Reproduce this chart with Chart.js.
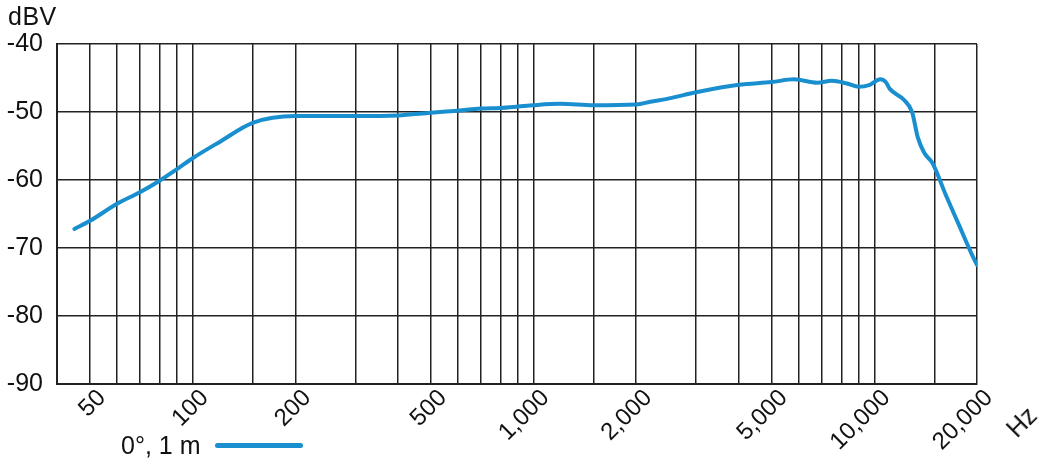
<!DOCTYPE html>
<html>
<head>
<meta charset="utf-8">
<script src="https://cdn.jsdelivr.net/npm/chart.js@4"></script>
<style>
  body { margin: 0; background: #fff; font-family: 'Liberation Sans', Arial, sans-serif; color: #111; }
  #wrap { position: relative; width: 1040px; height: 461px; }
  .lbl { position: absolute; font-size: 25px; white-space: nowrap; line-height: 1; }
  #unit { left: 8px; top: 4px; letter-spacing: 0.5px; }
  #hz { left: 1002px; top: 424px; transform: rotate(-45deg); transform-origin: left top; }
  #legend { left: 121px; top: 433px; }
  #legend span.line { display: inline-block; width: 88px; height: 5px; border-radius: 3px; background: #1a8fd0; vertical-align: middle; margin-left: 15px; position: relative; top: -2px; }
</style>
</head>
<body>
<div id="wrap">
  <canvas id="chart" width="1040" height="461"></canvas>
  <div class="lbl" id="unit">dBV</div>
  <div class="lbl" id="hz">Hz</div>
  <div class="lbl" id="legend">0°, 1 m<span class="line"></span></div>
</div>
<script>
const freqs = [45, 50, 60, 70, 80, 90, 100, 120, 150, 200, 300, 400, 500, 600, 700, 800, 900, 1000, 1200, 1500, 2000, 2200, 2500, 3000, 4000, 5000, 5800, 6800, 7500, 8300, 9000, 9700, 10400, 10800, 11100, 12200, 12900, 13400, 14000, 14800, 16200, 17700, 19300, 20000]
const levels = [-67.2, -66.0, -63.5, -61.8, -60.1, -58.4, -56.8, -54.4, -51.6, -50.6, -50.6, -50.5, -50.1, -49.8, -49.5, -49.4, -49.2, -49.0, -48.8, -49.0, -48.9, -48.5, -48.0, -47.1, -46.0, -45.6, -45.2, -45.7, -45.4, -45.8, -46.3, -46.0, -45.2, -45.6, -46.6, -48.2, -50.0, -53.7, -56.0, -57.5, -62.2, -66.6, -70.9, -72.5]

const gridFreqs = [50, 60, 70, 80, 90, 100, 150, 200, 300, 400, 500, 600, 700, 800, 900, 1000, 1500, 2000, 3000, 4000, 5000, 6000, 7000, 8000, 9000, 10000, 15000, 20000]
const tickLabels = { 50: '50', 100: '100', 200: '200', 500: '500', 1000: '1,000', 2000: '2,000', 5000: '5,000', 10000: '10,000', 20000: '20,000' }

const BLUE = '#1a8fd0'
const GRID = '#222'

new Chart(document.getElementById('chart'), {
  type: 'line',
  data: {
    datasets: [{
      data: freqs.map((f, i) => ({ x: f, y: levels[i] })),
      borderColor: BLUE,
      borderWidth: 4,
      pointRadius: 0,
      cubicInterpolationMode: 'monotone',
      borderCapStyle: 'round',
      borderJoinStyle: 'round',
    }],
  },
  options: {
    responsive: false,
    animation: false,
    layout: { padding: { left: 0, right: 63, top: 44, bottom: 0 } },
    plugins: { legend: { display: false }, tooltip: { enabled: false } },
    scales: {
      x: {
        type: 'logarithmic',
        min: 40,
        max: 20000,
        afterBuildTicks: (scale) => { scale.ticks = gridFreqs.map((v) => ({ value: v })) },
        afterFit: (scale) => { scale.height = 77 },
        grid: { color: GRID, lineWidth: 1.5, drawTicks: false },
        border: { color: GRID, width: 2 },
        ticks: {
          autoSkip: false,
          minRotation: 45,
          maxRotation: 45,
          labelOffset: 12,
          padding: 0,
          color: '#111',
          font: { family: "'Liberation Sans', Arial, sans-serif", size: 24 },
          callback: (v) => tickLabels[v] || '',
        },
      },
      y: {
        min: -90,
        max: -40,
        afterFit: (scale) => { scale.width = 57 },
        grid: { color: GRID, lineWidth: 1.5, drawTicks: false },
        border: { color: GRID, width: 2 },
        ticks: {
          stepSize: 10,
          padding: 14,
          color: '#111',
          font: { family: "'Liberation Sans', Arial, sans-serif", size: 25 },
        },
      },
    },
  },
})
</script>
</body>
</html>
